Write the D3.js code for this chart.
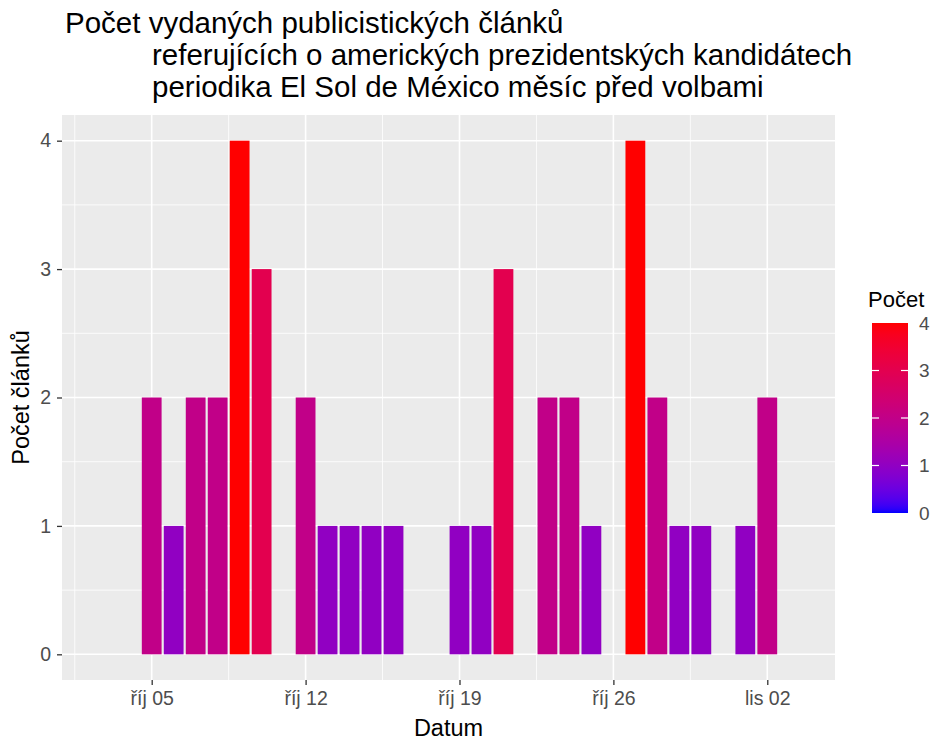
<!DOCTYPE html>
<html>
<head>
<meta charset="utf-8">
<script src="https://cdn.jsdelivr.net/npm/d3@7"></script>
<style>
  html, body { margin: 0; padding: 0; background: #ffffff; }
  svg text { font-family: "Liberation Sans", Arial, sans-serif; }
</style>
</head>
<body>
<svg id="chart" width="937" height="740"></svg>
<script>
// ---- data ----
const dates = ["2020-10-05","2020-10-06","2020-10-07","2020-10-08","2020-10-09","2020-10-10",
               "2020-10-12","2020-10-13","2020-10-14","2020-10-15","2020-10-16",
               "2020-10-19","2020-10-20","2020-10-21",
               "2020-10-23","2020-10-24","2020-10-25",
               "2020-10-27","2020-10-28","2020-10-29","2020-10-30",
               "2020-11-01","2020-11-02"];
const counts = [2,1,2,2,4,3, 2,1,1,1,1, 1,1,3, 2,2,1, 4,2,1,1, 1,2];
const tickDates = ["2020-10-05","2020-10-12","2020-10-19","2020-10-26","2020-11-02"];
const tickLabels = ["říj 05","říj 12","říj 19","říj 26","lis 02"];
const yTicks = [0,1,2,3,4];
const legendTicks = [0,1,2,3,4];
const titleLines = ["Počet vydaných publicistických článků",
                    "referujících o amerických prezidentských kandidátech",
                    "periodika El Sol de México měsíc před volbami"];
const xTitle = "Datum", yTitle = "Počet článků", legendTitle = "Počet";

// ---- layout ----
const DAY = 86400000;
const parse = s => new Date(s + "T00:00:00Z");
const data = dates.map((d, i) => ({ date: parse(d), value: counts[i] }));
const panel = { left: 62, right: 835, top: 115, bottom: 680 };

const svg = d3.select("#chart");

const x = d3.scaleUtc()
  .domain([new Date(parse(dates[0]).getTime() - 4.08 * DAY),
           new Date(parse(dates[dates.length - 1]).getTime() + 3.08 * DAY)])
  .range([panel.left, panel.right]);
const y = d3.scaleLinear().domain([-0.2, 4.2]).range([panel.bottom, panel.top]);
const color = d3.scaleLinear().domain([0, 4]).range(["blue", "red"]).interpolate(d3.interpolateLab);

// panel background
svg.append("rect")
  .attr("x", panel.left).attr("y", panel.top)
  .attr("width", panel.right - panel.left).attr("height", panel.bottom - panel.top)
  .attr("fill", "#EBEBEB");

const grid = svg.append("g");
// minor grid
const majorX = tickDates.map(parse);
const minorX = [];
const step = 7 * DAY;
minorX.push(new Date(majorX[0].getTime() - step / 2));
majorX.forEach(d => minorX.push(new Date(d.getTime() + step / 2)));
minorX.filter(d => x(d) > panel.left && x(d) < panel.right).forEach(d => {
  grid.append("line").attr("x1", x(d)).attr("x2", x(d)).attr("y1", panel.top).attr("y2", panel.bottom)
    .attr("stroke", "#fff").attr("stroke-width", 0.8);
});
const minorY = [-0.5, 0.5, 1.5, 2.5, 3.5].filter(v => y(v) < panel.bottom && y(v) > panel.top);
minorY.forEach(v => {
  grid.append("line").attr("x1", panel.left).attr("x2", panel.right).attr("y1", y(v)).attr("y2", y(v))
    .attr("stroke", "#fff").attr("stroke-width", 0.8);
});
// major grid
majorX.forEach(d => {
  grid.append("line").attr("x1", x(d)).attr("x2", x(d)).attr("y1", panel.top).attr("y2", panel.bottom)
    .attr("stroke", "#fff").attr("stroke-width", 1.6);
});
yTicks.forEach(v => {
  grid.append("line").attr("x1", panel.left).attr("x2", panel.right).attr("y1", y(v)).attr("y2", y(v))
    .attr("stroke", "#fff").attr("stroke-width", 1.6);
});

// bars
const barW = x(new Date(parse(dates[0]).getTime() + 0.9 * DAY)) - x(parse(dates[0]));
svg.append("g").selectAll("rect").data(data).join("rect")
  .attr("x", d => x(d.date) - barW / 2)
  .attr("width", barW)
  .attr("y", d => y(d.value))
  .attr("height", d => y(0) - y(d.value))
  .attr("fill", d => color(d.value));

// x axis
const xAxis = svg.append("g").attr("transform", `translate(0,${panel.bottom})`)
  .call(d3.axisBottom(x).tickValues(majorX).tickSize(5).tickPadding(6)
        .tickFormat((d, i) => tickLabels[i]));
xAxis.select(".domain").remove();
xAxis.selectAll(".tick line").attr("stroke", "#333").attr("stroke-width", 1.3);
xAxis.selectAll(".tick text").attr("fill", "#4D4D4D").style("font-size", "19.5px")
  .style("font-family", "'Liberation Sans', Arial, sans-serif");

// y axis
const yAxis = svg.append("g").attr("transform", `translate(${panel.left},0)`)
  .call(d3.axisLeft(y).tickValues(yTicks).tickSize(5).tickPadding(6).tickFormat(d3.format("d")));
yAxis.select(".domain").remove();
yAxis.selectAll(".tick line").attr("stroke", "#333").attr("stroke-width", 1.3);
yAxis.selectAll(".tick text").attr("fill", "#4D4D4D").style("font-size", "19.5px")
  .style("font-family", "'Liberation Sans', Arial, sans-serif");

// axis titles
svg.append("text").attr("x", (panel.left + panel.right) / 2).attr("y", 736)
  .attr("text-anchor", "middle").attr("fill", "#000").style("font-size", "23.5px").text(xTitle);
svg.append("text").attr("transform", `translate(29,${(panel.top + panel.bottom) / 2}) rotate(-90)`)
  .attr("text-anchor", "middle").attr("fill", "#000").style("font-size", "23.5px").text(yTitle);

// title
const titleX = [65, 152, 152];
titleLines.forEach((t, i) => {
  svg.append("text").attr("x", titleX[i]).attr("y", 33 + i * 32)
    .attr("fill", "#000").style("font-size", "29.5px").text(t);
});

// legend
const lg = { x: 872, y0: 323, y1: 513, w: 36 };
const ly = d3.scaleLinear().domain([0, 4]).range([lg.y1, lg.y0]);
const defs = svg.append("defs");
const grad = defs.append("linearGradient").attr("id", "cbar")
  .attr("x1", 0).attr("y1", 1).attr("x2", 0).attr("y2", 0);
d3.range(0, 1.0001, 0.02).forEach(t => {
  grad.append("stop").attr("offset", t).attr("stop-color", color(t * 4));
});
svg.append("text").attr("x", 868).attr("y", 307).attr("fill", "#000")
  .style("font-size", "22px").text(legendTitle);
svg.append("rect").attr("x", lg.x).attr("y", lg.y0).attr("width", lg.w).attr("height", lg.y1 - lg.y0)
  .attr("fill", "url(#cbar)");
legendTicks.forEach(v => {
  if (v > 0 && v < 4) {
    svg.append("line").attr("x1", lg.x).attr("x2", lg.x + 7).attr("y1", ly(v)).attr("y2", ly(v))
      .attr("stroke", "#fff").attr("stroke-width", 1.2);
    svg.append("line").attr("x1", lg.x + lg.w - 7).attr("x2", lg.x + lg.w).attr("y1", ly(v)).attr("y2", ly(v))
      .attr("stroke", "#fff").attr("stroke-width", 1.2);
  }
  svg.append("text").attr("x", 919).attr("y", ly(v)).attr("dy", "0.35em")
    .attr("fill", "#4D4D4D").style("font-size", "19px").text(v);
});
</script>
</body>
</html>
